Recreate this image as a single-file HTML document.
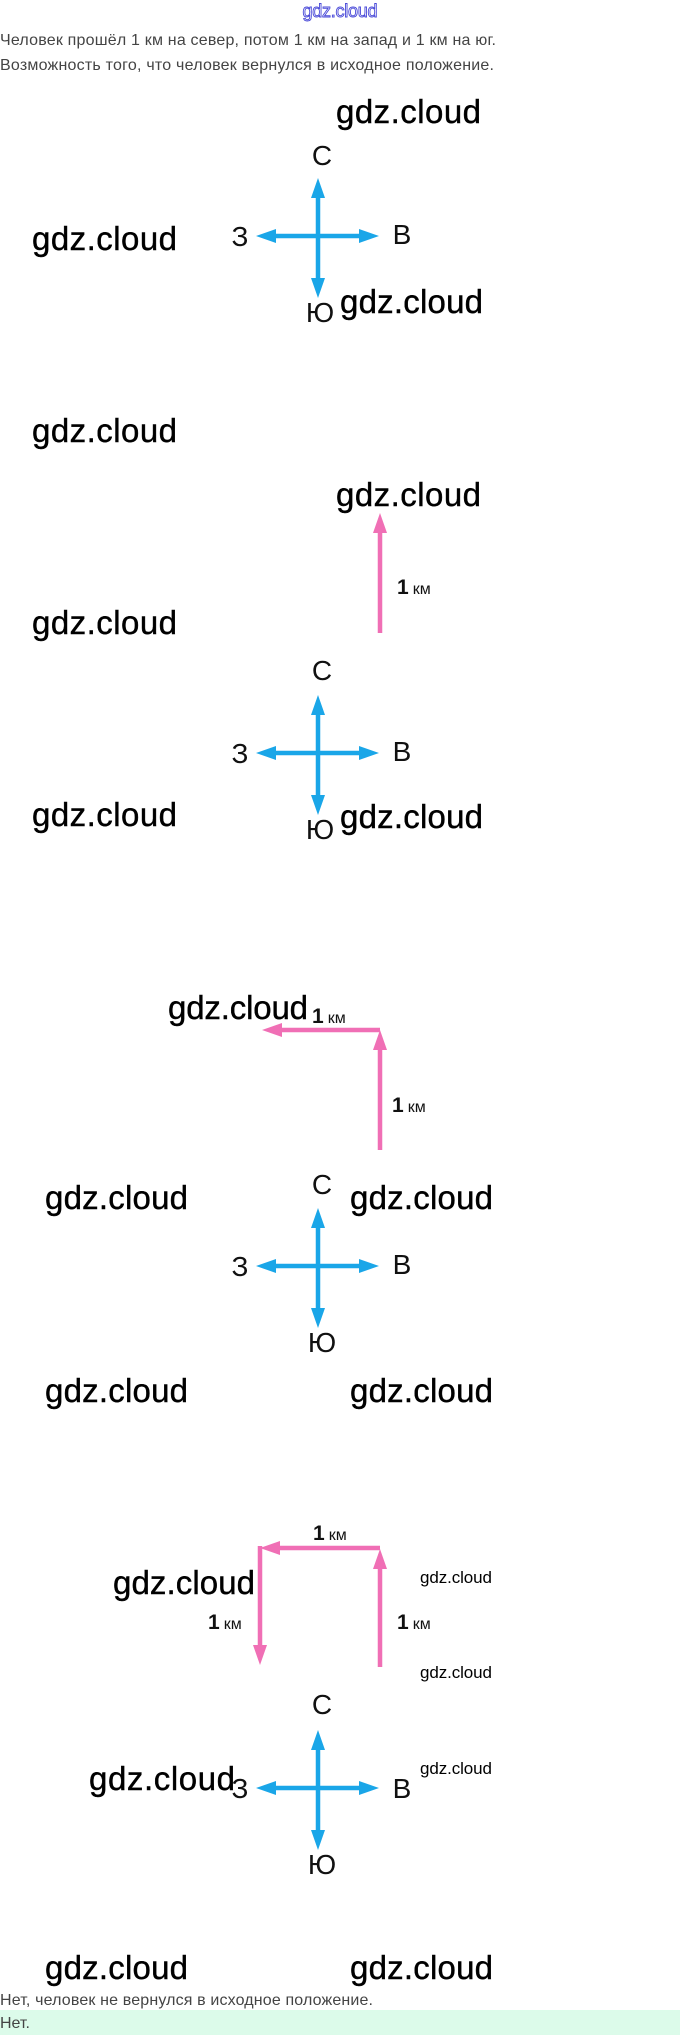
<!DOCTYPE html>
<html><head><meta charset="utf-8"><style>
html,body{margin:0;padding:0;background:#fff;width:680px;height:2035px;overflow:hidden}
svg{display:block}
.t{font-family:"Liberation Sans",sans-serif;fill:#444;font-size:16px}
.w{font-family:"Liberation Sans",sans-serif;fill:#000;font-size:33px;stroke:#000;stroke-width:0.4}
.ws{font-family:"Liberation Sans",sans-serif;fill:#000;font-size:17px}
.l{font-family:"Liberation Sans",sans-serif;fill:#111;font-size:28px}
.k1{font-family:"Liberation Sans",sans-serif;font-weight:bold;fill:#111;font-size:21px}
.k2{font-family:"Liberation Sans",sans-serif;fill:#111;font-size:16px}
</style></head><body>
<svg width="680" height="2035" viewBox="0 0 680 2035" xmlns="http://www.w3.org/2000/svg">
<defs>
<g id="cmp">
  <line x1="0" y1="-48" x2="0" y2="52" stroke="#1aa6e8" stroke-width="4.5"/>
  <line x1="-52" y1="0" x2="51" y2="0" stroke="#1aa6e8" stroke-width="4.5"/>
  <polygon points="0,-58 -7,-38 7,-38" fill="#1aa6e8"/>
  <polygon points="0,62 -7,42 7,42" fill="#1aa6e8"/>
  <polygon points="-62,0 -42,-7 -42,7" fill="#1aa6e8"/>
  <polygon points="61,0 41,-7 41,7" fill="#1aa6e8"/>
</g>
</defs>

<text x="340" y="17" text-anchor="middle" font-family="Liberation Sans,sans-serif" font-size="18" fill="#fff" stroke="#4a4ad8" stroke-width="0.9" textLength="75">gdz.cloud</text>
<text class="t" x="0" y="45" textLength="496">Человек прошёл 1 км на север, потом 1 км на запад и 1 км на юг.</text>
<text class="t" x="0" y="70" textLength="494">Возможность того, что человек вернулся в исходное положение.</text>

<!-- Diagram 1 -->
<text class="w" x="336" y="123" textLength="145">gdz.cloud</text>
<text class="w" x="32" y="250" textLength="145">gdz.cloud</text>
<use href="#cmp" x="318" y="236"/>
<text class="l" x="322" y="165" text-anchor="middle">С</text>
<text class="l" x="240" y="246" text-anchor="middle">З</text>
<text class="l" x="402" y="244" text-anchor="middle">В</text>
<text class="l" x="320" y="322" text-anchor="middle">Ю</text>
<text class="w" x="340" y="313" textLength="143">gdz.cloud</text>

<!-- Diagram 2 -->
<text class="w" x="32" y="442" textLength="145">gdz.cloud</text>
<text class="w" x="336" y="506" textLength="145">gdz.cloud</text>
<line x1="380" y1="633" x2="380" y2="528" stroke="#f06fb5" stroke-width="4.5"/>
<polygon points="380,513 373,533 387,533" fill="#f06fb5"/>
<text x="397" y="594"><tspan class="k1">1</tspan><tspan class="k2" dx="4">км</tspan></text>
<text class="w" x="32" y="634" textLength="145">gdz.cloud</text>
<use href="#cmp" x="318" y="753"/>
<text class="l" x="322" y="680" text-anchor="middle">С</text>
<text class="l" x="240" y="763" text-anchor="middle">З</text>
<text class="l" x="402" y="761" text-anchor="middle">В</text>
<text class="l" x="320" y="839" text-anchor="middle">Ю</text>
<text class="w" x="32" y="826" textLength="145">gdz.cloud</text>
<text class="w" x="340" y="828" textLength="143">gdz.cloud</text>

<!-- Diagram 3 -->
<line x1="380" y1="1150" x2="380" y2="1045" stroke="#f06fb5" stroke-width="4.5"/>
<polygon points="380,1030 373,1050 387,1050" fill="#f06fb5"/>
<line x1="380" y1="1030" x2="278" y2="1030" stroke="#f06fb5" stroke-width="4.5"/>
<polygon points="262,1030 282,1023 282,1037" fill="#f06fb5"/>
<text x="392" y="1112"><tspan class="k1">1</tspan><tspan class="k2" dx="4">км</tspan></text>
<text class="w" x="168" y="1019" textLength="140">gdz.cloud</text>
<text x="312" y="1023"><tspan class="k1">1</tspan><tspan class="k2" dx="4">км</tspan></text>
<text class="w" x="45" y="1209" textLength="143">gdz.cloud</text>
<text class="w" x="350" y="1209" textLength="143">gdz.cloud</text>
<use href="#cmp" x="318" y="1266"/>
<text class="l" x="322" y="1194" text-anchor="middle">С</text>
<text class="l" x="240" y="1276" text-anchor="middle">З</text>
<text class="l" x="402" y="1274" text-anchor="middle">В</text>
<text class="l" x="322" y="1352" text-anchor="middle">Ю</text>
<text class="w" x="45" y="1402" textLength="143">gdz.cloud</text>
<text class="w" x="350" y="1402" textLength="143">gdz.cloud</text>

<!-- Diagram 4 -->
<line x1="380" y1="1667" x2="380" y2="1564" stroke="#f06fb5" stroke-width="4.5"/>
<polygon points="380,1549 373,1569 387,1569" fill="#f06fb5"/>
<line x1="380" y1="1548" x2="276" y2="1548" stroke="#f06fb5" stroke-width="4.5"/>
<polygon points="260,1548 280,1541 280,1555" fill="#f06fb5"/>
<line x1="260" y1="1546" x2="260" y2="1648" stroke="#f06fb5" stroke-width="4.5"/>
<polygon points="260,1665 253,1645 267,1645" fill="#f06fb5"/>
<text x="313" y="1540"><tspan class="k1">1</tspan><tspan class="k2" dx="4">км</tspan></text>
<text x="208" y="1629"><tspan class="k1">1</tspan><tspan class="k2" dx="4">км</tspan></text>
<text x="397" y="1629"><tspan class="k1">1</tspan><tspan class="k2" dx="4">км</tspan></text>
<text class="w" x="113" y="1594" textLength="142">gdz.cloud</text>
<text class="ws" x="420" y="1583" textLength="72">gdz.cloud</text>
<text class="ws" x="420" y="1678" textLength="72">gdz.cloud</text>
<text class="ws" x="420" y="1774" textLength="72">gdz.cloud</text>
<use href="#cmp" x="318" y="1788"/>
<text class="l" x="322" y="1714" text-anchor="middle">С</text>
<text class="l" x="240" y="1798" text-anchor="middle">З</text>
<text class="l" x="402" y="1798" text-anchor="middle">В</text>
<text class="l" x="322" y="1874" text-anchor="middle">Ю</text>
<text class="w" x="89" y="1790" textLength="146">gdz.cloud</text>
<text class="w" x="45" y="1979" textLength="143">gdz.cloud</text>
<text class="w" x="350" y="1979" textLength="143">gdz.cloud</text>

<text class="t" x="0" y="2005" textLength="373">Нет, человек не вернулся в исходное положение.</text>
<rect x="0" y="2010" width="680" height="25" fill="#dcfbea"/>
<text class="t" x="0" y="2028">Нет.</text>
</svg>
</body></html>
